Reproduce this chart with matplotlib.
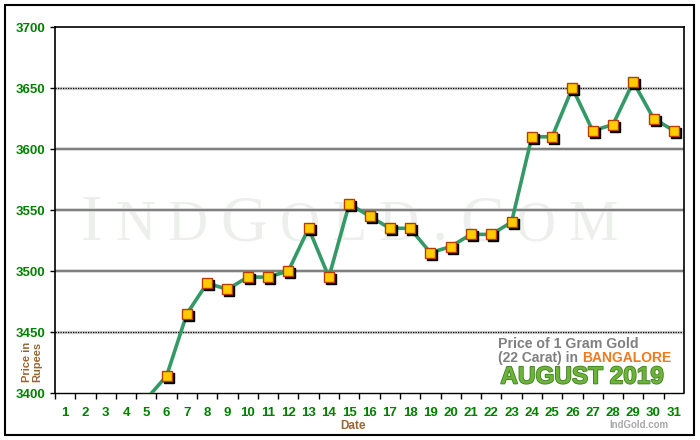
import matplotlib
matplotlib.use("Agg")
import matplotlib.pyplot as plt
import matplotlib.patheffects as pe
from matplotlib.transforms import offset_copy
from matplotlib.offsetbox import TextArea, HPacker, AnnotationBbox
from matplotlib.patches import Rectangle

# ── Data ─────────────────────────────────────────────
days = list(range(1, 32))
prices = [3300, 3340, 3360, 3360, 3395, 3414, 3465, 3490, 3485, 3495,
          3495, 3500, 3535, 3495, 3555, 3545, 3535, 3535, 3515, 3520,
          3530, 3530, 3540, 3610, 3610, 3650, 3615, 3620, 3655, 3625, 3615]
y_ticks = [3400, 3450, 3500, 3550, 3600, 3650, 3700]
solid_grid = [3500, 3550, 3600]
dotted_grid = [3450, 3650]

GREEN_TXT = "#008000"
BROWN = "#996633"
plt.rcParams["font.family"] = ["Liberation Sans", "DejaVu Sans"]

fig = plt.figure(figsize=(7, 4.4), dpi=100)
ax = fig.add_axes([55 / 700, 47 / 440, 629 / 700, 366 / 440])
ax.set_xlim(0.5, 31.5)
ax.set_ylim(3400, 3700)

# ── Watermark (spaced small caps) ────────────────────
wm_letters = "INDGOLD.COM"
big = {0, 3, 7, 8}
boxes = [TextArea(ch, textprops=dict(fontsize=47 if i in big else 40,
                                      color="#ECEFEC", family="Liberation Serif"))
         for i, ch in enumerate(wm_letters)]
wm = HPacker(children=boxes, align="baseline", pad=0, sep=9)
ax.add_artist(AnnotationBbox(wm, (0.468, 0.46), xycoords="axes fraction",
                             frameon=False, zorder=0))

# ── Grid lines ───────────────────────────────────────
for v in solid_grid:
    ax.axhline(v, color="#D0D0D0", lw=2.6, zorder=1)
    ax.axhline(v, color="#707070", lw=1.2, zorder=1)
for v in dotted_grid:
    ax.axhline(v, color="#D0D0D0", lw=2.4, zorder=1)
    ax.axhline(v, color="black", lw=0.9, ls=(0, (1, 1)), zorder=1)

# ── Line + markers with shadow ───────────────────────
ax.plot(days, prices, color="#339966", lw=2.6, zorder=3)
shadow = offset_copy(ax.transData, fig=fig, x=2, y=-2, units="dots")
ax.plot(days, prices, ls="none", marker="s", ms=6.5, color="black",
        transform=shadow, zorder=4)
ax.plot(days, prices, ls="none", marker="s", ms=6.5, mfc="#FFCC00",
        mec="#B83C00", mew=1.0, zorder=5)

# ── Axes styling ─────────────────────────────────────
for s in ["left", "top", "right"]:
    ax.spines[s].set_color("black")
    ax.spines[s].set_linewidth(1.2)
ax.spines["bottom"].set_linestyle((0, (2, 1)))
ax.spines["bottom"].set_linewidth(1.0)

ax.set_yticks(y_ticks)
ax.set_yticklabels([str(v) for v in y_ticks])
ax.tick_params(axis="y", length=3.5, width=1, pad=3.5, labelsize=9.5,
               labelcolor=GREEN_TXT)
for lbl in ax.get_yticklabels():
    lbl.set_fontweight("bold")

ax.set_xticks([d + 0.5 for d in range(0, 31)])
ax.set_xticklabels([])
ax.set_xticks(days, minor=True)
ax.set_xticklabels([str(d) for d in days], minor=True)
ax.tick_params(axis="x", which="major", length=4, width=1)
ax.tick_params(axis="x", which="minor", length=0, pad=10, labelsize=9.5,
               labelcolor=GREEN_TXT)
for lbl in ax.get_xticklabels(minor=True):
    lbl.set_fontweight("bold")

fig.text(353 / 700, 1 - 426 / 440, "Date", color=BROWN, fontsize=8.5,
         fontweight="bold", ha="center", va="center")
fig.text(32 / 700, 1 - 362 / 440, "Price in\nRupees", color=BROWN,
         fontsize=8, fontweight="bold", ha="center", va="center",
         rotation=90, linespacing=1.0)

# ── Caption block ────────────────────────────────────
fig.text(498 / 700, 1 - 344 / 440, "Price of 1 Gram Gold", color="#808080",
         fontsize=10.2, fontweight="bold", ha="left", va="center")
line2 = HPacker(children=[
    TextArea("(22 Carat) in ", textprops=dict(color="#808080", fontsize=10,
                                              fontweight="bold")),
    TextArea("BANGALORE", textprops=dict(color="#F07A1E", fontsize=10,
                                         fontweight="bold")),
], align="baseline", pad=0, sep=0)
fig.add_artist(AnnotationBbox(line2, (498 / 700, 1 - 358 / 440),
                              xycoords="figure fraction", box_alignment=(0, 0.5),
                              frameon=False))
fig.text(582 / 700, 1 - 377 / 440, "AUGUST 2019", color="#6DB33A",
         fontsize=17.5, fontweight="bold", ha="center", va="center",
         path_effects=[pe.withStroke(linewidth=1.2, foreground="#3F7F22")])
fig.text(639 / 700, 1 - 425 / 440, "IndGold.com", color="#A8A8A8",
         fontsize=7, fontweight="bold", ha="center", va="center")

# outer frame
fig.add_artist(Rectangle((5 / 700, 5 / 440), 689 / 700, 430 / 440,
                         transform=fig.transFigure, fill=False,
                         edgecolor="black", lw=1.5))

plt.savefig("out.png", dpi=100)
